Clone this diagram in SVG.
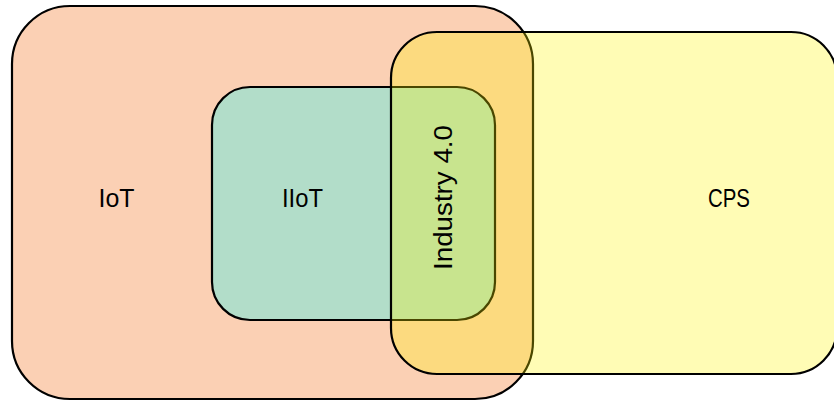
<svg xmlns="http://www.w3.org/2000/svg" width="834" height="401" viewBox="0 0 834 401">
<style>
.set{stroke:#000;stroke-width:2.2}
.lbl{font-family:"Liberation Sans",Arial,sans-serif;font-size:26px;fill:#000;text-anchor:middle}
</style>
<rect width="834" height="401" fill="#fff"/>
<g id="iot">
<rect class="set" x="12" y="6" width="521" height="393" rx="58" ry="58" fill="#FBD0B4"/>
<text class="lbl" x="116.5" y="206.5" textLength="36" lengthAdjust="spacingAndGlyphs">IoT</text>
</g>
<g id="iiot">
<rect class="set" x="212" y="87" width="283" height="233" rx="38" ry="38" fill="#B2DDC9"/>
<text class="lbl" x="302.5" y="206.5" textLength="41" lengthAdjust="spacingAndGlyphs">IIoT</text>
</g>
<g id="cps">
<rect class="set" x="391" y="32" width="446" height="342" rx="46" ry="46" fill="rgb(255,244,0)" fill-opacity="0.29"/>
<text class="lbl" x="729" y="206.5" textLength="42" lengthAdjust="spacingAndGlyphs">CPS</text>
</g>
<g id="industry40">
<text class="lbl" transform="translate(452,197.5) rotate(-90)" x="0" y="0" textLength="145" lengthAdjust="spacingAndGlyphs">Industry 4.0</text>
</g>
<g id="connectors"></g>
</svg>
